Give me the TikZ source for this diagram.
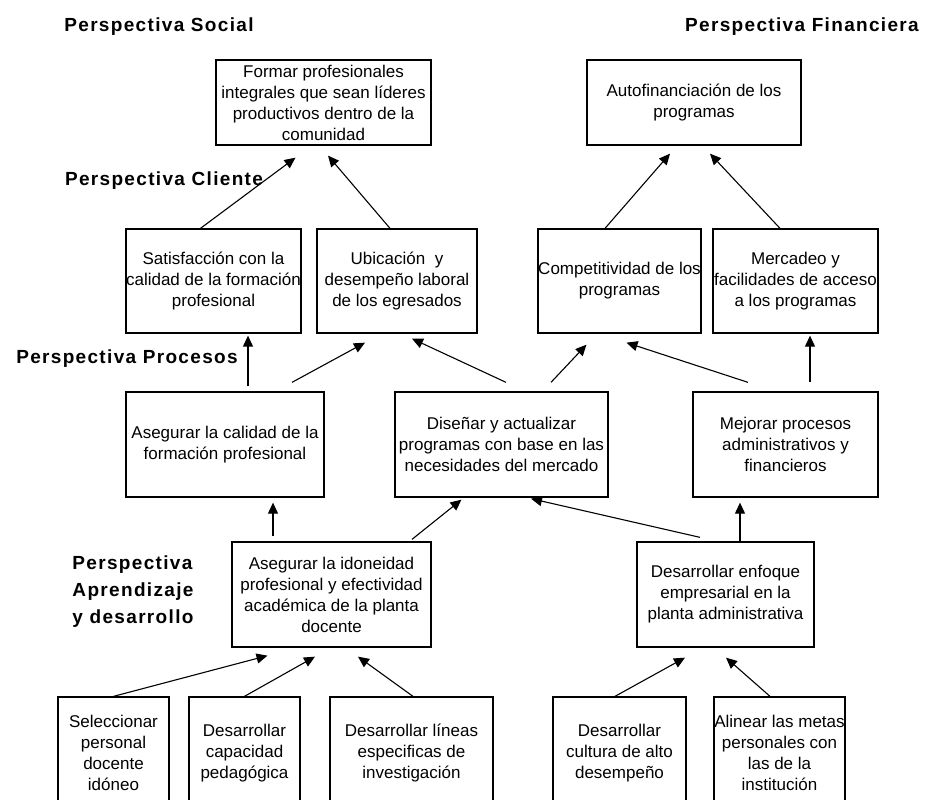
\documentclass[tikz,border=0pt]{standalone}
\usepackage{fontspec}
\setmainfont{Liberation Sans}
\newfontfamily\perspfont[LetterSpace=7]{Liberation Sans}
\usetikzlibrary{arrows.meta}

\begin{document}
\begin{tikzpicture}[x=1pt,y=-1pt,
  box/.style={draw,line width=1.3pt,rectangle,align=center,inner sep=0pt,
    font=\fontsize{17}{21}\selectfont},
  persp/.style={align=left,inner sep=0pt,font=\perspfont\fontsize{19}{27}\selectfont\bfseries},
  arr/.style={line width=1.1pt,-{Triangle[length=11pt,width=10pt]}}]
\useasboundingbox (0,0) rectangle (926,800);
\fill[white] (0,0) rectangle (926,800);
\clip (0,0) rectangle (926,800);

% perspective titles
\node[persp] (psocial) at (159,27) {Perspectiva Social};
\node[persp] (pfinan) at (802,27) {Perspectiva Financiera};
\node[persp] (pcliente) at (164,181) {Perspectiva Cliente};
\node[persp] (pprocesos) at (127,359) {Perspectiva Procesos};
\node[persp] (paprend) at (133,592) {Perspectiva\\Aprendizaje\\y desarrollo};

% social / financiera
\node[box,minimum width=215,minimum height=85] (formar) at (323.5,102.5)
  {Formar profesionales\\integrales que sean líderes\\productivos dentro de la\\comunidad};
\node[box,minimum width=214,minimum height=85] (autof) at (694,102.5)
  {Autofinanciación de los\\programas};

% cliente
\node[box,minimum width=175,minimum height=104] (satis) at (213.5,281)
  {Satisfacción con la\\calidad de la formación\\profesional};
\node[box,minimum width=160,minimum height=104] (ubic) at (397,281)
  {Ubicación \ y\\desempeño laboral\\de los egresados};
\node[box,minimum width=163,minimum height=104] (compet) at (619.5,281)
  {Competitividad de los\\programas};
\node[box,minimum width=165,minimum height=104] (merc) at (795.5,281)
  {Mercadeo y\\facilidades de acceso\\a los programas};

% procesos
\node[box,minimum width=198,minimum height=105] (asegcal) at (225,444.5)
  {Asegurar la calidad de la\\formación profesional};
\node[box,minimum width=213,minimum height=105] (disenar) at (501.5,444.5)
  {Diseñar y actualizar\\programas con base en las\\necesidades del mercado};
\node[box,minimum width=185,minimum height=105] (mejorar) at (785.5,444.5)
  {Mejorar procesos\\administrativos y\\financieros};

% aprendizaje y desarrollo
\node[box,minimum width=199,minimum height=105] (idon) at (331.5,594.5)
  {Asegurar la idoneidad\\profesional y efectividad\\académica de la planta\\docente};
\node[box,minimum width=177,minimum height=105] (enfoque) at (725.5,594.5)
  {Desarrollar enfoque\\empresarial en la\\planta administrativa};

\node[box,minimum width=111,minimum height=112] (selec) at (113.5,753)
  {Seleccionar\\personal\\docente\\idóneo};
\node[box,minimum width=111,minimum height=112] (capac) at (244.5,753)
  {Desarrollar\\capacidad\\pedagógica};
\node[box,minimum width=163,minimum height=112] (lineas) at (411.5,753)
  {Desarrollar líneas\\especificas de\\investigación};
\node[box,minimum width=133,minimum height=112] (cultura) at (619.5,753)
  {Desarrollar\\cultura de alto\\desempeño};
\node[box,minimum width=131,minimum height=112] (alinear) at (779.5,753)
  {Alinear las metas\\personales con\\las de la\\institución};

% arrows to the top
\draw[arr] ([xshift=-13]satis.north) -- ([xshift=-28,yshift=-12]formar.south);
\draw[arr] ([xshift=-7]ubic.north) -- ([xshift=4.5,yshift=-10]formar.south);
\draw[arr] ([xshift=-14.5]compet.north) -- ([xshift=-24,yshift=-8]autof.south);
\draw[arr] ([xshift=-15.5]merc.north) -- ([xshift=16,yshift=-8]autof.south);

% procesos to cliente
\draw[arr] ([xshift=23,yshift=5]asegcal.north) -- ([xshift=34.5,yshift=-2]satis.south);
\draw[arr] ([xshift=67,yshift=9]asegcal.north) -- ([xshift=-32,yshift=-9]ubic.south);
\draw[arr] ([xshift=4.5,yshift=9]disenar.north) -- ([xshift=15,yshift=-5]ubic.south);
\draw[arr] ([xshift=49.5,yshift=9]disenar.north) -- ([xshift=-33,yshift=-11]compet.south);
\draw[arr] ([xshift=-37.5,yshift=9]mejorar.north) -- ([xshift=7,yshift=-9]compet.south);
\draw[arr] ([xshift=24.5,yshift=9]mejorar.north) -- ([xshift=14.5,yshift=-2]merc.south);

% aprendizaje to procesos
\draw[arr] ([xshift=-58.5,yshift=5]idon.north) -- ([xshift=48,yshift=-5]asegcal.south);
\draw[arr] ([xshift=80.5,yshift=2]idon.north) -- ([xshift=-40,yshift=-2]disenar.south);
\draw[arr] ([xshift=-25.5,yshift=4]enfoque.north) -- ([xshift=29.5,yshift=-1]disenar.south);
\draw[arr] ([xshift=14.5]enfoque.north) -- ([xshift=-45.5,yshift=-5]mejorar.south);

% bottom row
\draw[arr] (selec.north) -- ([xshift=-64,yshift=-8]idon.south);
\draw[arr] (capac.north) -- ([xshift=-16.5,yshift=-9]idon.south);
\draw[arr] ([xshift=1.5]lineas.north) -- ([xshift=26.5,yshift=-9]idon.south);
\draw[arr] ([xshift=-4.5]cultura.north) -- ([xshift=-40.5,yshift=-10]enfoque.south);
\draw[arr] ([xshift=-9.5]alinear.north) -- ([xshift=0.5,yshift=-10]enfoque.south);

\end{tikzpicture}
\end{document}
